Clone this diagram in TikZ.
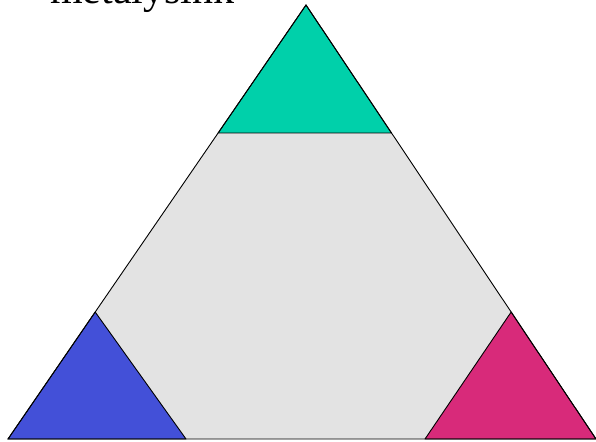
\documentclass[tikz,border=0pt]{standalone}
\usepackage{fontspec}
\setmainfont{Liberation Serif}
\usetikzlibrary{calc}
\definecolor{tealc}{RGB}{0,208,170}
\definecolor{bluec}{RGB}{67,80,216}
\definecolor{magc}{RGB}{216,42,122}
\definecolor{grayc}{RGB}{227,227,227}
\tikzset{edge/.style={draw=black,line width=0.9pt,line join=miter},
  corner/.style={fill=#1,draw=black,line width=0.9pt,line join=round}}
\begin{document}
\begin{tikzpicture}[x=1pt,y=-1pt]
\useasboundingbox (0,0) rectangle (596,441);
\coordinate (A) at (306,5);
\coordinate (L) at (8,439);
\coordinate (R) at (596,439);
\coordinate (g1) at ($(A)!0.2949!(L)$);
\coordinate (g2) at ($(A)!0.2949!(R)$);
\coordinate (b1) at ($(A)!0.7074!(L)$);
\coordinate (m1) at ($(A)!0.7074!(R)$);
\coordinate (m2) at (425,439);
\coordinate (b2) at (186,439);
\fill[grayc] (g1) -- (g2) -- (m1) -- (m2) -- (b2) -- (b1) -- cycle;
\draw[corner=tealc] (A) -- (g2) -- (g1) -- cycle;
\draw[corner=bluec] (b1) -- (b2) -- (L) -- cycle;
\draw[corner=magc] (m1) -- (R) -- (m2) -- cycle;
\draw[edge] (A) -- (L) -- (R) -- cycle;
\node[anchor=base west,inner sep=0pt,font=\fontsize{42}{42}\selectfont] (title) at (50,4) {metalysink};
\end{tikzpicture}
\end{document}
